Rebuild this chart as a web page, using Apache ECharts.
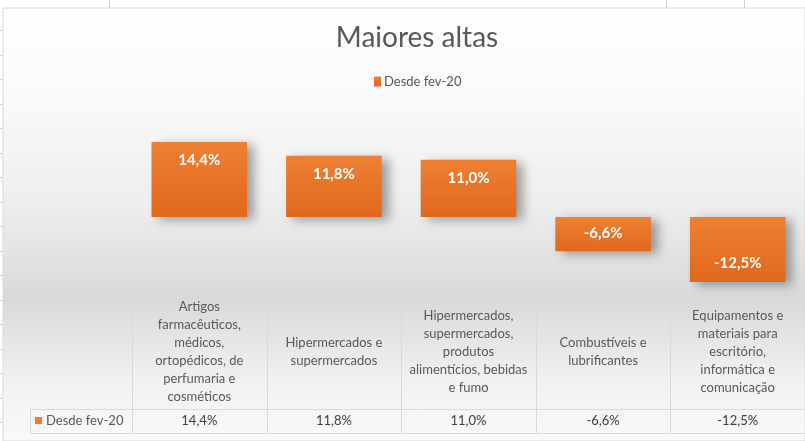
<!DOCTYPE html>
<html>
<head>
<meta charset="utf-8">
<script src="https://cdn.jsdelivr.net/npm/echarts@6/dist/echarts.min.js"></script>
<style>
html,body{margin:0;padding:0;background:#fff;}
#c{width:805px;height:441px;}
</style>
</head>
<body>
<div id="c"></div>
<script>
var title = 'Maiores altas';
var seriesName = 'Desde fev-20';
var categories = [
  'Artigos\nfarmacêuticos,\nmédicos,\nortopédicos, de\nperfumaria e\ncosméticos',
  'Hipermercados e\nsupermercados',
  'Hipermercados,\nsupermercados,\nprodutos\nalimentícios, bebidas\ne fumo',
  'Combustíveis e\nlubrificantes',
  'Equipamentos e\nmateriais para\nescritório,\ninformática e\ncomunicação'
];
var values = [14.4, 11.8, 11.0, -6.6, -12.5];

function fmt(v){ return v.toFixed(1).replace('.', ',') + '%'; }

var FONT = 'Lato, "Open Sans", sans-serif';
var W = 805, H = 441;
var gridLeft = 132, gridRight = 0;
var colW = (W - gridLeft - gridRight) / categories.length;

var chart = echarts.init(document.getElementById('c'));

var graphics = [];
graphics.push({
  type: 'rect', z: -100, silent: true,
  shape: {x: 3, y: 8, width: W - 3, height: H - 8},
  style: {
    fill: new echarts.graphic.LinearGradient(0, 0, 0, 1, [
      {offset: 0, color: '#ffffff'},
      {offset: 0.2, color: '#fafafa'},
      {offset: 0.45, color: '#eeeeee'},
      {offset: 0.67, color: '#d9d9d9'},
      {offset: 0.85, color: '#f0f0f0'},
      {offset: 1, color: '#f9f9f9'}
    ]),
    stroke: '#d9d9d9', lineWidth: 1
  }
});
[109, 666, 744].forEach(function(x){
  graphics.push({type:'line', z:-90, silent:true, shape:{x1:x+0.5,y1:0,x2:x+0.5,y2:8}, style:{stroke:'#d4d4d4',lineWidth:1}});
});
for (var gy = 30; gy < H; gy += 24.5) {
  graphics.push({type:'line', z:-90, silent:true, shape:{x1:0,y1:Math.round(gy)+0.5,x2:3,y2:Math.round(gy)+0.5}, style:{stroke:'#d4d4d4',lineWidth:1}});
}
var tTop = 409.5, tBot = 433.5, hTop = 299;
graphics.push({type:'line', z:-50, silent:true, shape:{x1:30, y1:tTop, x2:W, y2:tTop}, style:{stroke:'#d9d9d9', lineWidth:1}});
graphics.push({type:'line', z:-50, silent:true, shape:{x1:30, y1:tBot, x2:W, y2:tBot}, style:{stroke:'#d9d9d9', lineWidth:1}});
graphics.push({type:'line', z:-50, silent:true, shape:{x1:30.5, y1:tTop, x2:30.5, y2:tBot}, style:{stroke:'#d9d9d9', lineWidth:1}});
for (var i = 0; i < categories.length; i++) {
  var x = Math.round(gridLeft + i * colW) + 0.5;
  graphics.push({type:'line', z:-50, silent:true, shape:{x1:x, y1:hTop, x2:x, y2:tBot}, style:{stroke:'#d9d9d9', lineWidth:1}});
}
graphics.push({type:'rect', silent:true, shape:{x:35, y:417, width:7, height:7}, style:{fill:'#ED7D31'}});
graphics.push({type:'text', silent:true, x:46, y:421, style:{text: seriesName, font: '13px ' + FONT, fill:'#595959', verticalAlign:'middle', align:'left'}});

chart.setOption({
  animation: false,
  title: {
    text: title, left: 412, top: 19, textAlign: 'center',
    textStyle: {fontFamily: FONT, fontSize: 28, fontWeight: 'normal', color: '#595959'}
  },
  legend: {
    data: [seriesName], left: 369, top: 70,
    itemWidth: 7, itemHeight: 10, itemGap: 4, icon: 'rect',
    textStyle: {fontFamily: FONT, fontSize: 13, color: '#595959', padding: [0,0,0,-2]}
  },
  grid: {left: gridLeft, right: gridRight, top: 113, bottom: 120},
  xAxis: [{
    type: 'category', data: categories,
    axisLine: {show: false, onZero: false}, axisTick: {show: false},
    axisLabel: {interval: 0, margin: 31, verticalAlign: 'middle', lineHeight: 18,
      fontFamily: FONT, fontSize: 13, color: '#595959', align: 'center'}
  }, {
    type: 'category', data: values.map(fmt), position: 'bottom',
    axisLine: {show: false, onZero: false}, axisTick: {show: false},
    axisLabel: {interval: 0, margin: 100, verticalAlign: 'middle',
      fontFamily: FONT, fontSize: 13, color: '#404040'}
  }],
  yAxis: {
    type: 'value', min: -20, max: 20, interval: 10,
    show: false, splitLine: {show: false}
  },
  series: [{
    name: seriesName, type: 'bar', barCategoryGap: '29%',
    data: values.map(function(v){
      return {value: v, label: {position: v >= 0 ? 'insideTop' : 'insideBottom', distance: 11}};
    }),
    itemStyle: {
      color: new echarts.graphic.LinearGradient(0, 0, 0, 1, [
        {offset: 0, color: '#EE8034'},
        {offset: 1, color: '#E0681C'}
      ]),
      shadowColor: 'rgba(0,0,0,0.35)', shadowBlur: 10, shadowOffsetX: 7, shadowOffsetY: 3
    },
    label: {
      show: true, color: '#ffffff', fontFamily: FONT, fontSize: 15, fontWeight: 'bold',
      formatter: function(p){ return fmt(p.value); }
    }
  }],
  graphic: graphics
});
</script>
</body>
</html>
